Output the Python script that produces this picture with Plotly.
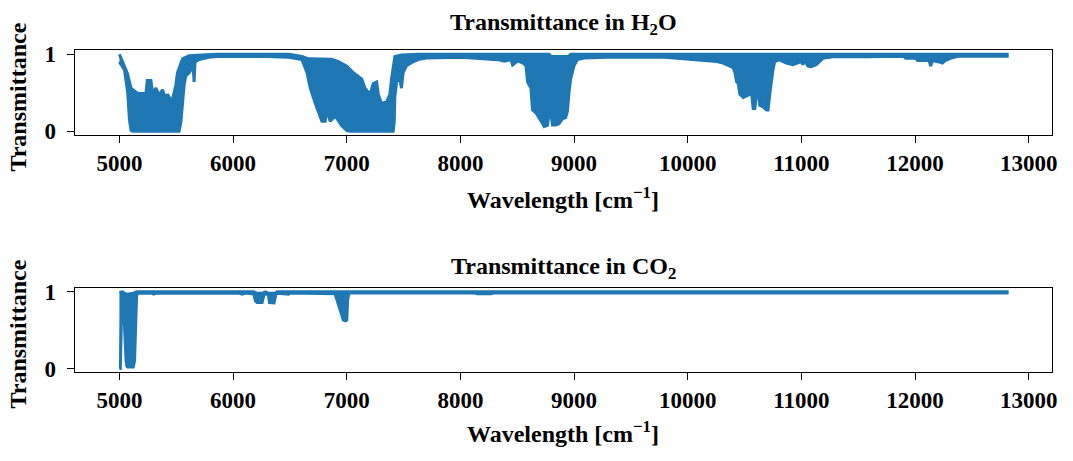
import plotly.graph_objects as go

# ---------------- data ----------------
# H2O transmittance: upper and lower envelope of the dense spectrum
h2o_wn_upper = [5000, 5015, 5044, 5073, 5088, 5102, 5160, 5233, 5245, 5277, 5292, 5321, 5350,
                5379, 5409, 5423, 5452, 5467, 5496, 5511, 5540, 5555, 5613, 5700, 5850, 6489,
                6606, 6664, 6781, 6868, 6927, 7000, 7058, 7131, 7160, 7204, 7233, 7263, 7277,
                7306, 7350, 7379, 7394, 7408, 7423, 7481, 7627, 8780, 8800, 8950, 8970, 12810]
h2o_t_upper = [1.0, 0.95, 0.86, 0.74, 0.64, 0.56, 0.49, 0.49, 0.66, 0.66, 0.49, 0.56, 0.47,
               0.54, 0.42, 0.48, 0.41, 0.41, 0.60, 0.76, 0.88, 0.94, 0.98, 0.99, 1.0, 1.0,
               0.97, 0.94, 0.94, 0.935, 0.905, 0.845, 0.76, 0.68, 0.56, 0.48, 0.62, 0.64, 0.48,
               0.36, 0.38, 0.48, 0.68, 0.85, 0.97, 0.99, 1.0, 1.0, 0.97, 0.97, 1.0, 1.0]

h2o_wn_lower = [5000, 5044, 5073, 5088, 5102, 5117, 5525, 5540, 5555, 5569, 5584, 5613, 5630,
                5650, 5657, 5665, 5700, 5788, 5850, 6000, 6300, 6489, 6606, 6650, 6679, 6723,
                6752, 6781, 6810, 6825, 6854, 6898, 6956, 7000, 7029, 7408, 7417, 7423, 7438,
                7467, 7481, 7496, 7525, 7569, 7627, 7700, 8000, 8200, 8328, 8386, 8445, 8459,
                8503, 8547, 8576, 8591, 8620, 8634, 8664, 8693, 8722, 8737, 8766, 8780, 8795,
                8810, 8839, 8868, 8897, 8926, 8941, 8956, 8970, 8999, 9029, 9087, 9291, 9800,
                10254, 10312, 10371, 10400, 10415, 10429, 10444, 10458, 10488, 10517, 10546,
                10560, 10575, 10590, 10604, 10619, 10633, 10663, 10692, 10706, 10721, 10750,
                10765, 10809, 10867, 10925, 10969, 10998, 11013, 11028, 11057, 11086, 11130,
                11188, 11276, 11568, 11900, 11918, 12006, 12021, 12123, 12137, 12150, 12167,
                12210, 12240, 12269, 12327, 12386, 12810]
h2o_t_lower = [0.90, 0.80, 0.50, 0.15, 0.01, 0.0, 0.0, 0.11, 0.36, 0.60, 0.72, 0.76, 0.80,
               0.80, 0.64, 0.90, 0.93, 0.96, 0.97, 0.975, 0.97, 0.96, 0.93, 0.76, 0.56, 0.36,
               0.24, 0.13, 0.13, 0.28, 0.13, 0.20, 0.07, 0.01, 0.0, 0.0, 0.11, 0.44, 0.64,
               0.68, 0.56, 0.76, 0.85, 0.89, 0.93, 0.95, 0.96, 0.94, 0.93, 0.91, 0.93, 0.86,
               0.91, 0.89, 0.85, 0.64, 0.56, 0.28, 0.24, 0.17, 0.10, 0.06, 0.08, 0.24, 0.24,
               0.08, 0.08, 0.10, 0.16, 0.18, 0.26, 0.52, 0.68, 0.85, 0.93, 0.95, 0.96, 0.96,
               0.906, 0.886, 0.845, 0.825, 0.764, 0.642, 0.622, 0.48, 0.439, 0.459, 0.48,
               0.52, 0.296, 0.296, 0.46, 0.60, 0.337, 0.317, 0.276, 0.276, 0.48, 0.80,
               0.906, 0.926, 0.886, 0.865, 0.886, 0.906, 0.865, 0.926, 0.845, 0.837, 0.865,
               0.947, 0.967, 0.967, 0.975, 0.947, 0.947, 0.918, 0.918, 0.845, 0.918, 0.918,
               0.90, 0.886, 0.92, 0.955, 0.975, 0.975]

# CO2 transmittance: upper and lower envelope
co2_wn_upper = [5000, 5014, 5029, 5043, 5073, 5122, 5151, 6182, 6211, 6255, 6284, 6313, 6372,
                6386, 12810]
co2_t_upper = [0.99, 1.0, 1.0, 0.98, 0.97, 0.98, 1.0, 1.0, 0.98, 0.98, 1.0, 0.98, 0.98,
               1.0, 1.0]

co2_wn_lower = [5000, 5008, 5014, 5022, 5029, 5036, 5043, 5058, 5066, 5073, 5122, 5133, 5140,
                5151, 5160, 5291, 5300, 5321, 6050, 6080, 6109, 6182, 6197, 6211, 6255, 6270,
                6284, 6310, 6320, 6360, 6375, 6386, 6488, 6500, 6897, 6926, 6955, 6970, 6990,
                7000, 7008, 7020, 8130, 8150, 8270, 8290, 12810]
co2_t_lower = [0.0, 0.0, 0.5, 0.95, 0.97, 0.9, 0.6, 0.1, 0.03, 0.02, 0.02, 0.1, 0.4,
               0.95, 0.98, 0.98, 0.97, 0.98, 0.985, 0.97, 0.985, 0.97, 0.88, 0.86, 0.86, 0.95,
               0.98, 0.96, 0.86, 0.855, 0.96, 0.98, 0.97, 0.985, 0.975, 0.85, 0.70, 0.63, 0.62,
               0.63, 0.90, 0.985, 0.985, 0.975, 0.975, 0.985, 0.985]

x_ticks = [5000, 6000, 7000, 8000, 9000, 10000, 11000, 12000, 13000]
x_tick_labels = ["5000", "6000", "7000", "8000", "9000", "10000", "11000", "12000", "13000"]
y_ticks = [0, 1]
y_tick_labels = ["0", "1"]
titles = ["Transmittance in H<sub>2</sub>O", "Transmittance in CO<sub>2</sub>"]
x_label = "Wavelength [cm<sup>−1</sup>]"
y_label = "Transmittance"

# ---------------- figure ----------------
BLUE = "#1f77b4"
FONT = "Liberation Serif"
W, H = 1073, 461

fig = go.Figure()


def add_band(wu, tu, wl, tl, xa, ya):
    x = list(wu) + list(wl)[::-1]
    y = list(tu) + list(tl)[::-1]
    fig.add_trace(go.Scatter(x=x, y=y, mode="lines", fill="toself", fillcolor=BLUE,
                             line=dict(color=BLUE, width=3), xaxis=xa, yaxis=ya,
                             hoverinfo="skip", showlegend=False))


add_band(h2o_wn_upper, h2o_t_upper, h2o_wn_lower, h2o_t_lower, "x", "y")
add_band(co2_wn_upper, co2_t_upper, co2_wn_lower, co2_t_lower, "x2", "y2")

tickfont = dict(family=FONT, size=23, color="black", weight="bold")
common = dict(showline=True, linecolor="black", linewidth=1.3, mirror=True,
              ticks="outside", ticklen=7, tickwidth=1.3, tickcolor="black",
              showgrid=False, zeroline=False, tickfont=tickfont)

xdom = [75 / W, 1057 / W]
top_dom = [(H - 132) / H, (H - 44) / H]
bot_dom = [(H - 378.3) / H, (H - 290.7) / H]
xrange_ = [4606, 13205]
yrange_ = [-0.05, 1.05]

fig.update_layout(
    width=W, height=H,
    margin=dict(l=0, r=0, t=0, b=0),
    paper_bgcolor="white", plot_bgcolor="white",
    xaxis=dict(domain=xdom, anchor="y", range=xrange_, tickvals=x_ticks,
               ticktext=x_tick_labels, **common),
    yaxis=dict(domain=top_dom, anchor="x", range=yrange_, tickvals=y_ticks,
               ticktext=y_tick_labels, ticklabelstandoff=6, **common),
    xaxis2=dict(domain=xdom, anchor="y2", range=xrange_, tickvals=x_ticks,
                ticktext=x_tick_labels, **common),
    yaxis2=dict(domain=bot_dom, anchor="x2", range=yrange_, tickvals=y_ticks,
                ticktext=y_tick_labels, ticklabelstandoff=6, **common),
)

lab_font = dict(family=FONT, size=24, color="black", weight="bold")
xc = (xdom[0] + xdom[1]) / 2
anns = [
    (titles[0], xc, (H - 17) / H, 0),
    (x_label, xc, (H - 197) / H, 0),
    (titles[1], xc, (H - 270) / H, 0),
    (x_label, xc, (H - 440) / H, 0),
    (y_label, 18 / W, (H - 92) / H, -90),
    (y_label, 18 / W, (H - 338) / H, -90),
]
for text, x, y, ang in anns:
    fig.add_annotation(text=text, x=x, y=y, xref="paper", yref="paper", showarrow=False,
                       xanchor="center", yanchor="middle", textangle=ang, font=lab_font)

fig.write_html("out.html",
               config={"displayModeBar": False},
               post_script="document.body.style.margin='0';"
                           "document.documentElement.style.overflow='hidden';")
